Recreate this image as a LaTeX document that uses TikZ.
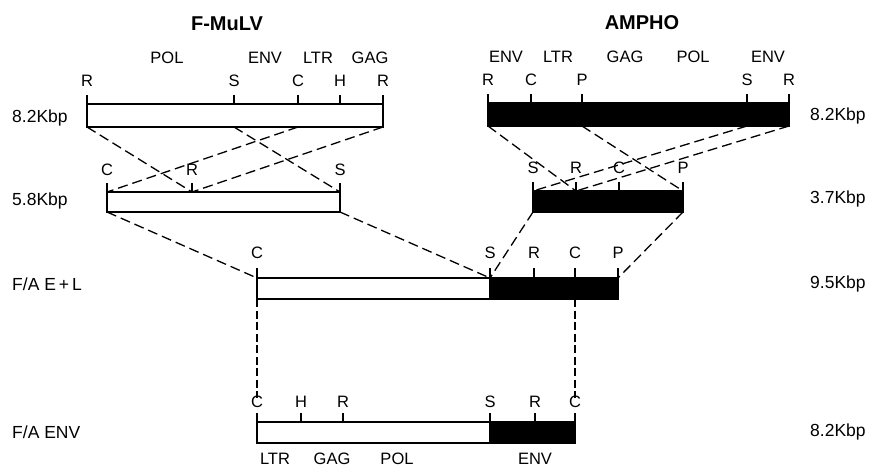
\documentclass[tikz,border=0pt]{standalone}
\usepackage{fontspec}
\setmainfont{Liberation Sans}
\begin{document}
\begin{tikzpicture}[x=1pt,y=-1pt,
  lbl/.style={font=\fontsize{16.5}{18}\selectfont, inner sep=0pt, anchor=base},
  side/.style={font=\fontsize{17.5}{19}\selectfont, inner sep=0pt, anchor=base west},
  ttl/.style={font=\fontsize{20}{22}\selectfont\bfseries, inner sep=0pt, anchor=base},
  wbar/.style={draw, line width=1.6pt, fill=white},
  bbar/.style={draw, line width=1.6pt, fill=black},
  tickln/.style={line width=1.4pt},
  link/.style={line width=1.3pt, dash pattern=on 10pt off 5pt},
  vlink/.style={line width=1.3pt, dash pattern=on 8pt off 3.5pt}]
\useasboundingbox (0,0) rectangle (870,466);

% titles
\node[ttl] (tF) at (227,30) {F-MuLV};
\node[ttl] (tA) at (642,29) {AMPHO};

% ---- F-MuLV 8.2 Kbp
\draw[wbar] (87,104) rectangle (383,127);
\foreach \x/\n/\t in {87/a/R,234/b/S,298/c/C,340/d/H,383/e/R}{
  \draw[tickln] (\x,95) -- (\x,104);
  \node[lbl] (L1\n) at (\x,86) {\t};
  \coordinate (L1b\n) at (\x,127);
}
\foreach \x/\n/\t in {167/p/POL,265/q/ENV,318/r/LTR,370/s/GAG}{
  \node[lbl] (L1\n) at (\x,63) {\t};
}
\node[side] (sL1) at (12,122) {8.2Kbp};

% ---- F-MuLV 5.8 Kbp
\draw[wbar] (107,192) rectangle (340,212);
\foreach \x/\n/\t in {107/a/C,192/b/R,340/c/S}{
  \draw[tickln] (\x,183) -- (\x,192);
  \node[lbl] (L2\n) at (\x,175) {\t};
  \coordinate (L2t\n) at (\x,192);
  \coordinate (L2b\n) at (\x,212);
}
\node[side] (sL2) at (12,205) {5.8Kbp};

% ---- AMPHO 8.2 Kbp
\draw[bbar] (488,103) rectangle (789,126);
\foreach \x/\n/\t in {488/a/R,531/b/C,582/c/P,747/d/S,789/e/R}{
  \draw[tickln] (\x,94) -- (\x,103);
  \node[lbl] (R1\n) at (\x,85) {\t};
  \coordinate (R1b\n) at (\x,126);
}
\foreach \x/\n/\t in {506/p/ENV,558/q/LTR,625/r/GAG,693/s/POL,768/u/ENV}{
  \node[lbl] (R1\n) at (\x,62) {\t};
}
\node[side] (sR1) at (810,120) {8.2Kbp};

% ---- AMPHO 3.7 Kbp
\draw[bbar] (533,191) rectangle (683,212);
\foreach \x/\n/\t in {533/a/S,576/b/R,619/c/C,683/d/P}{
  \draw[tickln] (\x,182) -- (\x,191);
  \node[lbl] (R2\n) at (\x,173) {\t};
  \coordinate (R2t\n) at (\x,191);
  \coordinate (R2b\n) at (\x,212);
}
\node[side] (sR2) at (810,203) {3.7Kbp};

% ---- F/A E+L
\draw[wbar] (257,278) rectangle (490,299);
\draw[bbar] (490,278) rectangle (618,299);
\foreach \x/\n/\t in {257/a/C,490/b/S,534/c/R,575/d/C,618/e/P}{
  \draw[tickln] (\x,268) -- (\x,278);
  \node[lbl] (M3\n) at (\x,258) {\t};
  \coordinate (M3t\n) at (\x,278);
  \coordinate (M3b\n) at (\x,299);
}
\node[side] (sM3a) at (12,290) {F/A E\,+\,L};
\node[side] (sM3b) at (810,288) {9.5Kbp};

% ---- F/A ENV
\draw[wbar] (257,422) rectangle (490,443);
\draw[bbar] (490,422) rectangle (575,443);
\foreach \x/\n/\t in {257/a/C,301/b/H,343/c/R,490/d/S,535/e/R,575/f/C}{
  \draw[tickln] (\x,413) -- (\x,422);
  \node[lbl] (B4\n) at (\x,407) {\t};
}
\foreach \x/\n/\t in {275/p/LTR,332/q/GAG,397/r/POL,535/s/ENV}{
  \node[lbl] (B4\n) at (\x,464) {\t};
}
\node[side] (sB4a) at (12,438) {F/A ENV};
\node[side] (sB4b) at (810,436) {8.2Kbp};

% ---- connectors
\draw[link] (L1ba) -- (L2tb);
\draw[link] (L1bb) -- (L2tc);
\draw[link] (L1bc) -- (L2ta);
\draw[link] (L1be) -- (L2tb);

\draw[link] (R1ba) -- (R2tb);
\draw[link] (R1bc) -- (R2td);
\draw[link] (R1bd) -- (R2ta);
\draw[link] (R1be) -- (R2tb);

\draw[link] (L2ba) -- (M3ta);
\draw[link] (L2bc) -- (M3tb);
\draw[link] (R2ba) -- (M3tb);
\draw[link] (R2bd) -- (M3te);

\draw[vlink] (M3ba) -- ([yshift=-3pt]B4a.north);
\draw[vlink] (M3bd) -- ([yshift=-3pt]B4f.north);
\end{tikzpicture}
\end{document}
